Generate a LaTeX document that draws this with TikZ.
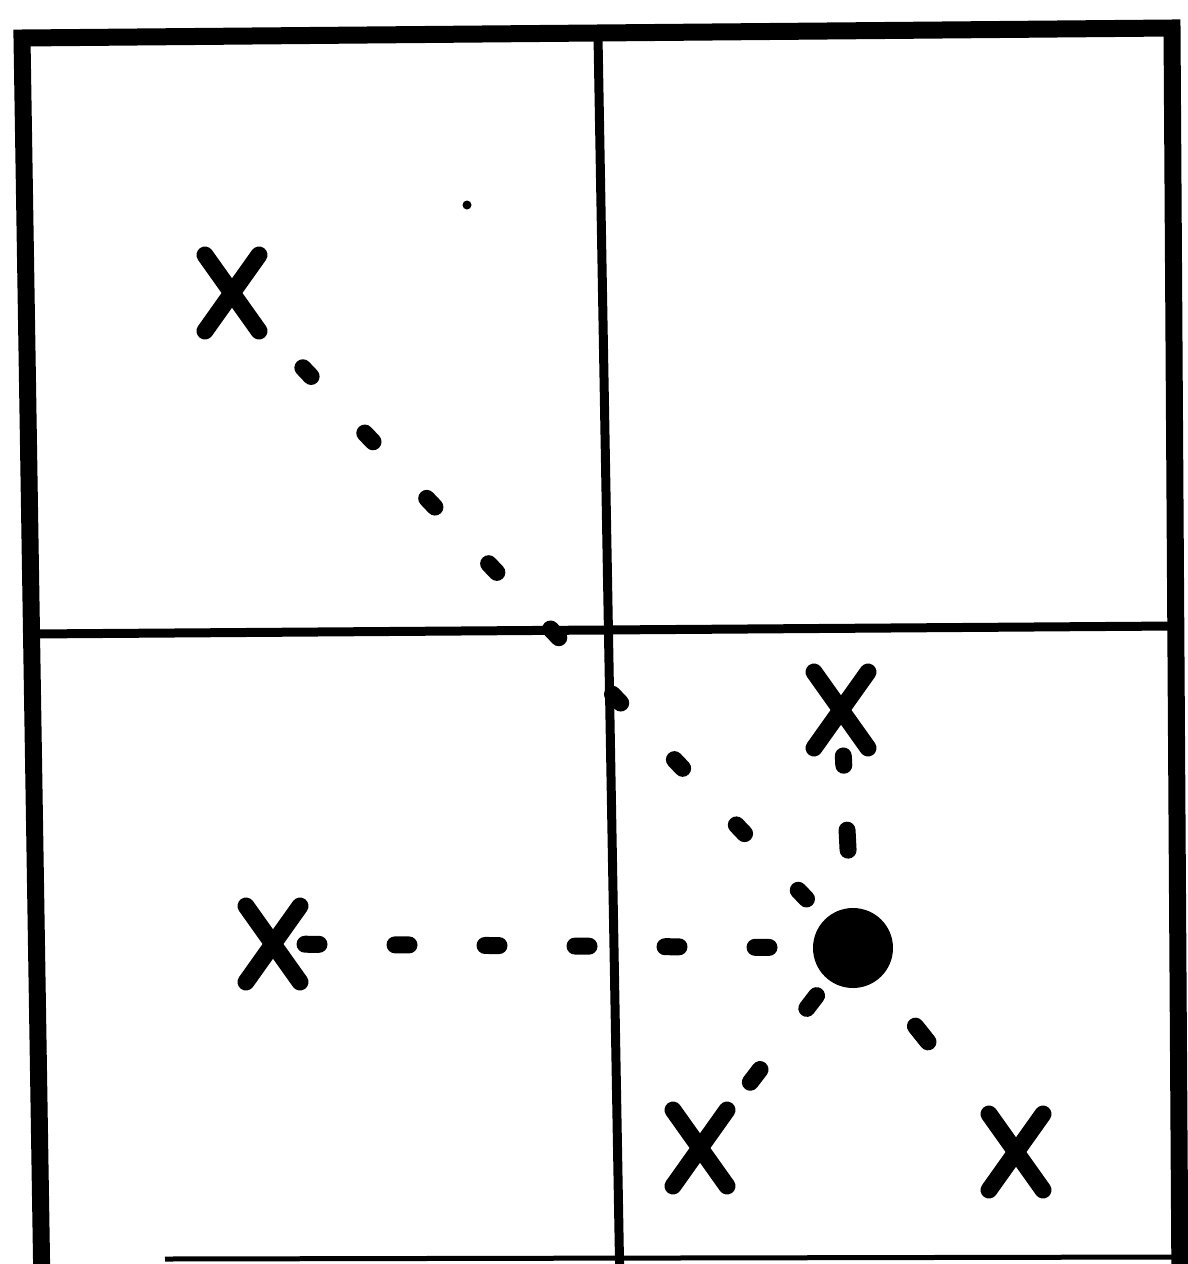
\documentclass[tikz,border=0pt]{standalone}
\begin{document}
\begin{tikzpicture}[x=1pt,y=-1pt,
  outerline/.style={line width=17pt, line cap=butt, line join=miter},
  innerline/.style={line width=9pt},
  thinline/.style={line width=5pt},
  conn/.style={line width=17pt, line cap=round},
  xmark/.pic={\draw[line width=17pt, line cap=round] (-27,-38) -- (27,38) (27,-38) -- (-27,38);}
]
\useasboundingbox (0,0) rectangle (1187,1264);
% frame
\draw[outerline] (42,1290) -- (22,38) -- (1172,28) -- (1180,1290);
\draw[thinline] (165,1259) -- (1180,1257);
\draw[innerline] (30,634) -- (1176,626);
\draw[innerline] (598,36) -- (620,1290);
% points
\coordinate (x1) at (232,293);
\coordinate (x2) at (841,710);
\coordinate (x3) at (273,944);
\coordinate (x4) at (700,1148);
\coordinate (x5) at (1016,1152);
\coordinate (stray) at (467,205);
\node[circle, fill=black, inner sep=0pt, minimum size=80pt] (dot) at (853,948) {};
\fill (stray) circle (4.5pt);
% x marks
\pic at (x1) {xmark};
\pic at (x2) {xmark};
\pic at (x3) {xmark};
\pic at (x4) {xmark};
\pic at (x5) {xmark};
% connectors
\draw[conn, dash pattern=on 12pt off 78pt, shorten <=103pt, shorten >=63pt] (x1) -- (dot.center);
\draw[conn, dash pattern=on 14pt off 76pt, shorten <=84pt, shorten >=26pt] (dot.center) -- (x3);
\draw[conn, dash pattern=on 20pt off 65pt, shorten <=98pt, shorten >=46pt] (dot.center) -- (x2);
\draw[conn, dash pattern=on 16pt off 77pt, shorten <=60pt, shorten >=81pt] (dot.center) -- (x4);
\draw[conn, shorten <=100pt, shorten >=141pt] (dot.center) -- (x5);
\end{tikzpicture}
\end{document}
